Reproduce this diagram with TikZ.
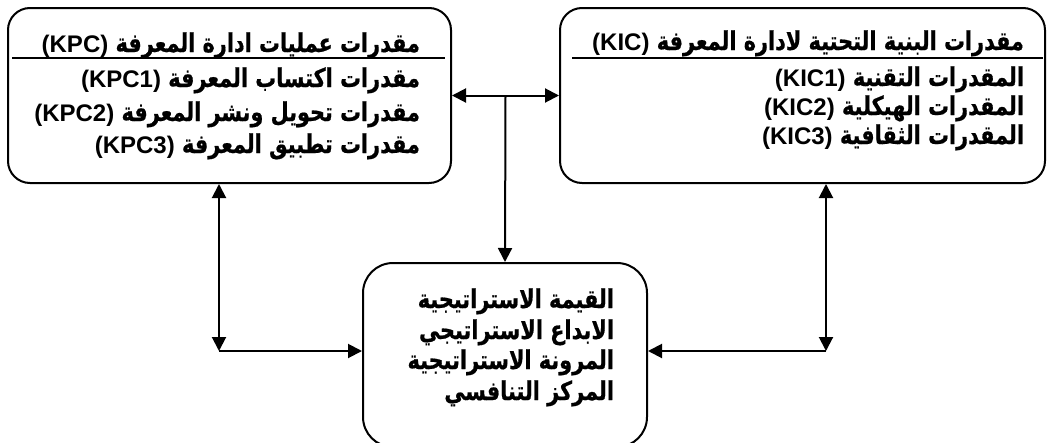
\documentclass[tikz,border=0pt]{standalone}
\usepackage{fontspec}
\usetikzlibrary{arrows.meta,calc}
\TeXXeTstate=1
\newfontfamily\arabicfont[Script=Arabic,FakeStretch=0.8,BoldFeatures={FakeBold=0.6}]{DejaVu Sans}
\newfontfamily\latinfont{Liberation Sans}
\newcommand{\artext}[1]{\beginR #1\endR}
\newcommand{\lattext}[1]{\beginL{\latinfont\fontsize{24}{24}\selectfont #1}\endL}
\tikzset{
  blk/.style={draw, line width=2pt, rounded corners=22pt},
  txt/.style={anchor=base east, inner sep=0pt,
    font=\arabicfont\bfseries\fontsize{26}{26}\selectfont}
}

\begin{document}
\begin{tikzpicture}[x=1pt, y=-1pt, line width=2pt,
    >={Triangle[length=14pt,width=14pt]}]
  \useasboundingbox (0,0) rectangle (1047,442);

  % boxes
  \node[blk, minimum width=443pt, minimum height=175pt] (kpc) at (229.5,95.5) {};
  \node[blk, minimum width=485pt, minimum height=175pt] (kic) at (802.5,95.5) {};
  \node[blk, rounded corners=30pt, minimum width=284pt, minimum height=184pt] (sv) at (505,355) {};

  % left box text
  \node[txt] (kpct) at (421,52) {\artext{مقدرات عمليات ادارة المعرفة \lattext{(KPC)}}};
  \node[txt] (kpca) at (421,87) {\artext{مقدرات اكتساب المعرفة \lattext{(KPC1)}}};
  \node[txt] (kpcb) at (421,121) {\artext{مقدرات تحويل ونشر المعرفة \lattext{(KPC2)}}};
  \node[txt] (kpcc) at (421,153) {\artext{مقدرات تطبيق المعرفة \lattext{(KPC3)}}};
  \draw (12,58) -- (445,58);

  % right box text
  \node[txt] (kict) at (1025,50) {\artext{مقدرات البنية التحتية لادارة المعرفة \lattext{(KIC)}}};
  \node[txt] (kica) at (1025,86) {\artext{المقدرات التقنية \lattext{(KIC1)}}};
  \node[txt] (kicb) at (1025,115) {\artext{المقدرات الهيكلية \lattext{(KIC2)}}};
  \node[txt] (kicc) at (1025,144) {\artext{المقدرات الثقافية \lattext{(KIC3)}}};
  \draw (572,58) -- (1043,58);

  % bottom box text
  \node[txt] (sva) at (615,308) {\artext{القيمة الاستراتيجية}};
  \node[txt] (svb) at (615,339) {\artext{الابداع الاستراتيجي}};
  \node[txt] (svc) at (615,369) {\artext{المرونة الاستراتيجية}};
  \node[txt] (svd) at (615,400) {\artext{المركز التنافسي}};

  % connectors
  \coordinate (mid) at ($(kpc.east)!0.5!(kic.west)$);
  \coordinate (lc) at (219,351);
  \coordinate (rc) at (826,351);
  \draw[<->] (kpc.east) -- (kic.west);
  \draw[->] (mid) -- (sv.north);
  \draw[<->] (kpc.south -| lc) -- (lc);
  \draw[->] (lc) -- (lc -| sv.west);
  \draw[<->] (kic.south -| rc) -- (rc);
  \draw[->] (rc) -- (rc -| sv.east);
\end{tikzpicture}
\end{document}
